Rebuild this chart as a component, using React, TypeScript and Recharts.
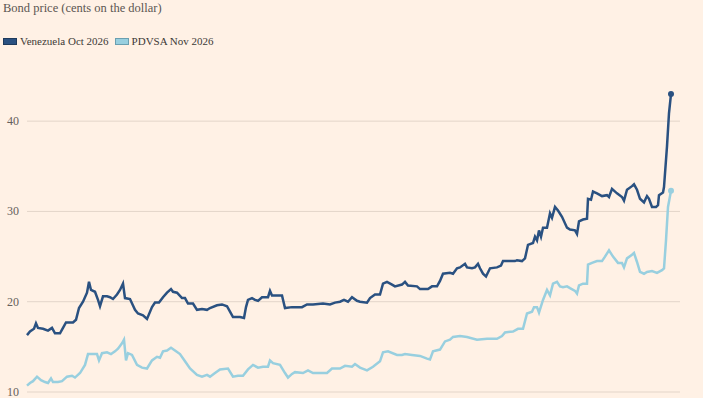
import React from "react";
import { LineChart, Line, XAxis, YAxis, ReferenceLine } from "recharts";

// Time index (trading-day offset) and prices
const venDays = [0,3,7,9,11,16,21,25,28,33,36,39,46,49,52,56,60,62,64,68,71,73,76,80,83,86,90,93,96,98,103,108,111,116,120,125,128,132,136,140,144,146,150,155,158,161,166,170,175,180,183,190,195,200,203,206,213,217,219,221,225,228,231,235,241,243,245,255,258,265,275,280,286,296,303,308,313,317,321,325,330,333,340,343,348,353,356,360,365,368,375,378,381,390,393,401,405,410,413,416,423,426,430,433,438,440,445,448,451,453,456,459,463,470,474,476,483,488,490,495,498,501,506,508,510,512,514,516,520,523,525,528,531,535,540,543,548,550,552,556,560,561,564,566,570,575,580,582,585,590,595,597,600,605,607,610,613,617,620,622,625,629,631,632,636,637,640,642,644];
const venValues = [16.3,16.7,17.0,17.6,17.1,17.0,16.8,17.1,16.5,16.5,17.1,17.7,17.7,18.0,19.3,20.0,21.0,22.2,21.3,21.1,20.2,19.5,20.6,20.6,20.5,20.3,20.8,21.3,22.0,20.4,20.3,19.1,18.7,18.5,18.1,19.4,19.9,19.9,20.5,21.0,21.4,21.1,21.0,20.4,20.4,19.8,19.8,19.1,19.2,19.1,19.3,19.6,19.7,19.5,18.9,18.3,18.3,18.2,19.4,20.2,20.4,20.2,20.1,20.5,20.5,21.2,20.7,20.7,19.3,19.4,19.4,19.7,19.7,19.8,19.7,19.9,20.0,20.2,20.0,20.5,20.1,20.0,19.9,20.4,20.8,20.8,22.0,22.2,21.9,21.7,21.9,22.2,21.8,21.7,21.4,21.4,21.7,21.7,22.3,23.1,23.2,23.1,23.7,23.8,24.2,23.8,23.7,23.8,24.2,23.7,23.1,22.8,23.7,23.8,24.0,24.5,24.5,24.5,24.6,24.5,24.8,26.3,26.5,27.2,26.8,27.9,27.2,28.2,28.2,29.8,29.3,30.5,30.1,29.4,28.2,28.0,27.9,27.5,28.9,29.1,29.2,31.4,31.3,32.2,32.0,31.7,31.8,31.6,32.5,32.0,31.6,31.2,32.4,32.8,33.0,32.4,31.4,31.0,31.7,31.4,30.5,30.5,30.7,31.8,32.1,32.7,37.2,40.9,43.0];

const pdvDays = [0,3,6,10,14,18,21,24,26,31,35,40,45,48,53,58,61,65,70,72,75,80,84,88,91,95,97,99,101,105,110,115,120,125,130,133,136,140,144,148,153,158,163,170,175,180,183,188,193,201,206,211,216,221,226,231,236,241,243,246,253,258,261,265,268,276,281,286,293,300,305,313,318,325,328,333,340,346,353,356,361,370,375,378,385,393,400,403,406,413,418,423,426,433,440,450,460,470,475,478,486,491,496,500,505,507,510,512,516,520,523,526,530,533,536,540,543,548,550,552,556,560,561,565,570,575,578,582,586,591,595,597,600,605,607,610,613,617,620,625,630,635,637,639,641,644];
const pdvValues = [10.7,11.0,11.2,11.7,11.3,11.1,11.0,11.5,11.1,11.1,11.2,11.7,11.8,11.6,12.1,13.0,14.2,14.2,14.2,13.5,14.3,14.4,14.2,14.5,14.8,15.4,15.8,13.5,14.3,14.1,13.0,12.7,12.6,13.5,13.9,13.8,14.5,14.6,14.9,14.6,14.2,13.4,12.6,11.9,11.7,11.9,11.7,12.1,12.5,12.6,11.7,11.8,11.8,12.5,13.0,12.7,12.8,12.8,13.5,13.2,13.0,12.1,11.6,12.0,12.2,12.1,12.4,12.1,12.1,12.1,12.6,12.6,12.9,12.8,13.1,12.7,12.4,12.8,13.4,14.4,14.5,14.1,14.1,14.2,14.1,14.0,13.7,13.6,14.5,14.7,15.6,15.8,16.1,16.2,16.1,15.8,15.9,15.9,16.2,16.6,16.7,17.0,17.0,18.7,18.9,19.4,19.4,18.8,20.2,21.3,20.7,22.0,22.2,21.7,21.6,21.7,21.5,21.2,20.9,21.8,22.0,22.0,24.1,24.3,24.5,24.5,25.0,25.7,25.0,24.3,24.3,23.8,24.8,25.2,25.4,24.4,23.3,23.1,23.3,23.4,23.2,23.5,23.7,26.8,30.5,32.3];

const yTicks = [10, 20, 30, 40];
const seriesNames = ["Venezuela Oct 2026", "PDVSA Nov 2026"];
const title = "Bond price (cents on the dollar)";

const venData = venDays.map((d, i) => ({ day: d, value: venValues[i] }));
const pdvData = pdvDays.map((d, i) => ({ day: d, value: pdvValues[i] }));

const DARK = "#2a5181";
const LIGHT = "#98cfdf";
const FONT = '"Liberation Serif", "Times New Roman", serif';

const endDot = (color: string, lastIndex: number) => (props: any) => {
  const { cx, cy, index } = props;
  if (index !== lastIndex) return <g key={`d${index}`} />;
  return <circle key={`d${index}`} cx={cx} cy={cy} r={3} fill={color} stroke="none" />;
};

const YTick = (props: any) => {
  const { y, payload } = props;
  return (
    <text x={7} y={y + 4} fill="#66605c" fontSize={12} fontFamily={FONT} textAnchor="start">
      {payload.value}
    </text>
  );
};

export default function App() {
  return (
    <div style={{ position: "absolute", left: 0, top: 0, width: 703, height: 398, background: "#fff1e5", overflow: "hidden" }}>
      <div style={{ position: "absolute", left: 3, top: 1, fontFamily: FONT, fontSize: 12.5, color: "#5b5652", whiteSpace: "nowrap" }}>
        {title}
      </div>
      <div style={{ position: "absolute", left: 3, top: 35, display: "flex", alignItems: "center", fontFamily: FONT, fontSize: 11, color: "#3d3936", whiteSpace: "nowrap" }}>
        <span style={{ display: "inline-block", width: 12, height: 5, background: DARK, border: "1px solid #1e3a5c", marginRight: 3 }} />
        <span style={{ marginRight: 6 }}>{seriesNames[0]}</span>
        <span style={{ display: "inline-block", width: 12, height: 5, background: LIGHT, border: "1px solid #6a9fb0", marginRight: 3 }} />
        <span>{seriesNames[1]}</span>
      </div>
      <div style={{ position: "absolute", left: 0, top: 0 }}>
        <LineChart width={703} height={398} margin={{ top: 76, right: 23, bottom: 6, left: 0 }}>
          <XAxis type="number" dataKey="day" domain={[0, 653]} hide />
          <YAxis
            type="number"
            domain={[10, 45]}
            ticks={yTicks}
            width={27}
            axisLine={false}
            tickLine={false}
            tick={<YTick />}
            interval={0}
          />
          {yTicks.map((t) => (
            <ReferenceLine key={t} y={t} stroke="#e3d5c9" strokeWidth={1} />
          ))}
          <Line
            data={pdvData}
            dataKey="value"
            type="linear"
            stroke={LIGHT}
            strokeWidth={2.5}
            dot={endDot(LIGHT, pdvData.length - 1)}
            activeDot={false}
            isAnimationActive={false}
          />
          <Line
            data={venData}
            dataKey="value"
            type="linear"
            stroke={DARK}
            strokeWidth={2.5}
            dot={endDot(DARK, venData.length - 1)}
            activeDot={false}
            isAnimationActive={false}
          />
        </LineChart>
      </div>
    </div>
  );
}
